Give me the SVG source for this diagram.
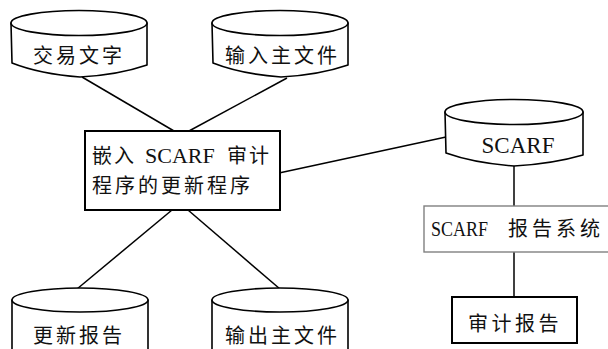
<svg xmlns="http://www.w3.org/2000/svg" width="608" height="349" viewBox="0 0 608 349">
<style>
.shape{fill:#fff;stroke:#000;stroke-width:1.6;stroke-linejoin:round}
.gbox{fill:#fff;stroke:#808080;stroke-width:1.4}
.box{fill:#fff;stroke:#000;stroke-width:2}
.conn line{stroke:#000;stroke-width:1.5}
.zh{font-family:"Noto Sans CJK SC","Noto Sans CJK JP",sans-serif;font-size:20px;letter-spacing:3px;fill:#111}
.lat{font-family:"Liberation Serif","DejaVu Serif",serif;font-size:22px;fill:#111}
</style>
<rect width="608" height="349" fill="#fff"/>
<g class="conn" id="connectors">
<line x1="82" y1="77" x2="174" y2="131"/>
<line x1="287" y1="78" x2="189" y2="131"/>
<line x1="279" y1="173" x2="446" y2="137"/>
<line x1="172" y1="210" x2="77" y2="289"/>
<line x1="188" y1="210" x2="280" y2="289"/>
<line x1="514" y1="165" x2="514" y2="206"/>
<line x1="514" y1="252" x2="514" y2="297"/>
</g>
<g id="n1">
<path class="shape" d="M11,23 L12,63 Q40,74 80,77 Q118,75 147,65 L147,23 Z"/>
<ellipse class="shape" cx="79" cy="23" rx="68" ry="12.5"/>
<text class="zh" x="33" y="63">交易文字</text>
</g>
<g id="n2">
<path class="shape" d="M212,23 L213,63 Q241,74 281,77 Q319,75 348,65 L348,23 Z"/>
<ellipse class="shape" cx="280" cy="23" rx="68" ry="12.5"/>
<text class="zh" x="225" y="63">输入主文件</text>
</g>
<g id="n3">
<rect class="box" x="85" y="131" width="195" height="79"/>
<text class="zh" x="92" y="163" style="letter-spacing:2px">嵌入</text>
<text class="lat" x="145" y="163">SCARF</text>
<text class="zh" x="227" y="163" style="letter-spacing:2px">审计</text>
<text class="zh" x="92" y="193">程序的更新程序</text>
</g>
<g id="n4">
<path class="shape" d="M445,112 L446,153 Q474,163 514,166 Q552,164 583,155 L583,112 Z"/>
<ellipse class="shape" cx="514" cy="112" rx="69" ry="12.5"/>
<text class="lat" x="518" y="153" text-anchor="middle" style="font-size:23px">SCARF</text>
</g>
<g id="n5">
<rect class="gbox" x="424" y="206" width="190" height="46"/>
<text class="lat" x="431" y="236" style="font-size:21px" textLength="57" lengthAdjust="spacingAndGlyphs">SCARF</text>
<text class="zh" x="508" y="236" style="letter-spacing:4px">报告系统</text>
</g>
<g id="n6">
<rect class="box" x="452" y="297" width="125" height="46"/>
<text class="zh" x="468" y="331" style="letter-spacing:3.5px">审计报告</text>
</g>
<g id="n7">
<path class="shape" d="M12,300 L12,355 L148,355 L148,300 Z"/>
<ellipse class="shape" cx="80" cy="300" rx="68" ry="12"/>
<text class="zh" x="33" y="343">更新报告</text>
</g>
<g id="n8">
<path class="shape" d="M212,300 L212,355 L348,355 L348,300 Z"/>
<ellipse class="shape" cx="280" cy="300" rx="68" ry="12"/>
<text class="zh" x="225" y="343">输出主文件</text>
</g>
</svg>
